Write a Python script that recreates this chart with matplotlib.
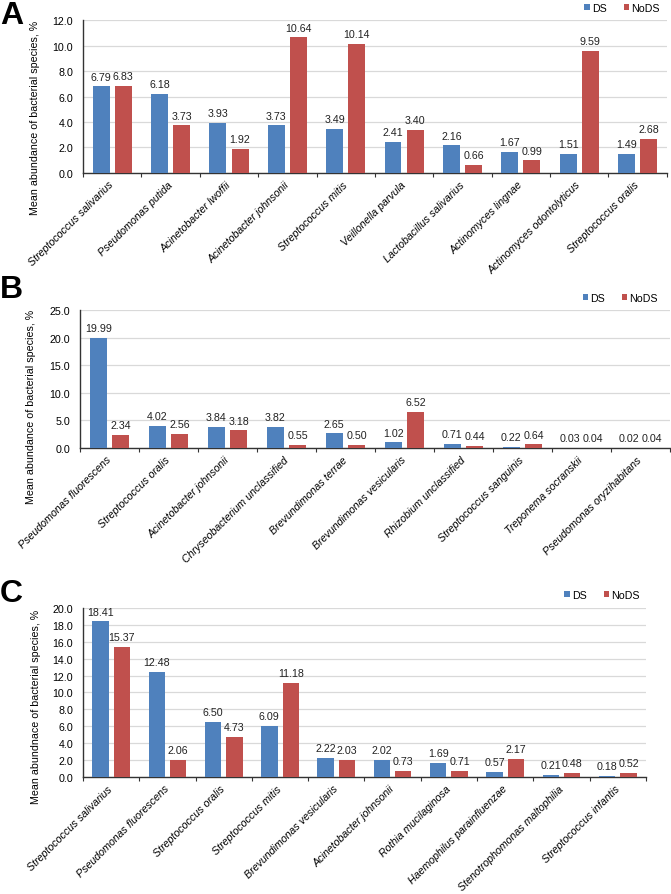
import numpy as np
import matplotlib.pyplot as plt

# panel A
cats_a = ["Streptococcus salivarius", "Pseudomonas putida", "Acinetobacter lwoffii",
          "Acinetobacter johnsonii", "Streptococcus mitis", "Veillonella parvula",
          "Lactobacillus salivarius", "Actinomyces lingnae", "Actinomyces odontolyticus",
          "Streptococcus oralis"]
ds_a = [6.79, 6.18, 3.93, 3.73, 3.49, 2.41, 2.16, 1.67, 1.51, 1.49]
nods_a = [6.83, 3.73, 1.92, 10.64, 10.14, 3.40, 0.66, 0.99, 9.59, 2.68]

# panel B
cats_b = ["Pseudomonas fluorescens", "Streptococcus oralis", "Acinetobacter johnsonii",
          "Chryseobacterium unclassified", "Brevundimonas terrae", "Brevundimonas vesicularis",
          "Rhizobium unclassified", "Streptococcus sanguinis", "Treponema socranskii",
          "Pseudomonas oryzihabitans"]
ds_b = [19.99, 4.02, 3.84, 3.82, 2.65, 1.02, 0.71, 0.22, 0.03, 0.02]
nods_b = [2.34, 2.56, 3.18, 0.55, 0.50, 6.52, 0.44, 0.64, 0.04, 0.04]

# panel C
cats_c = ["Streptococcus salivarius", "Pseudomonas fluorescens", "Streptococcus oralis",
          "Streptococcus mitis", "Brevundimonas vesicularis", "Acinetobacter johnsonii",
          "Rothia mucilaginosa", "Haemophilus parainfluenzae", "Stenotrophomonas maltophilia",
          "Streptococcus infantis"]
ds_c = [18.41, 12.48, 6.50, 6.09, 2.22, 2.02, 1.69, 0.57, 0.21, 0.18]
nods_c = [15.37, 2.06, 4.73, 11.18, 2.03, 0.73, 0.71, 2.17, 0.48, 0.52]

plt.rcParams['font.family'] = ['Liberation Sans', 'DejaVu Sans']

BLUE = '#4F81BD'
RED = '#C0504D'
FS = 7.7

fig = plt.figure(figsize=(6.71, 8.95), dpi=100)


def panel(rect, cats, ds, nods, ymax, step, ylabel, ylab_y, letter, letter_y, leg_xy):
    ax = fig.add_axes(rect)
    x = np.arange(len(cats))
    w = 0.29
    off = 0.19
    b1 = ax.bar(x - off, ds, w, color=BLUE, label='DS', zorder=3)
    b2 = ax.bar(x + off, nods, w, color=RED, label='NoDS', zorder=3)
    for bars, vals in ((b1, ds), (b2, nods)):
        for r, v in zip(bars, vals):
            ax.annotate(f"{v:.2f}", (r.get_x() + r.get_width() / 2, v),
                        xytext=(0, 3.5), textcoords='offset points',
                        ha='center', va='bottom', fontsize=FS, color='#222222')
    ticks = np.arange(0, ymax + 0.01, step)
    ax.set_xlim(-0.5, len(cats) - 0.5)
    ax.set_ylim(0, ymax)
    ax.set_yticks(ticks)
    ax.set_yticklabels([f"{t:.1f}" for t in ticks], fontsize=FS)
    ax.yaxis.grid(True, color='#D9D9D9', linewidth=0.9, zorder=0)
    ax.tick_params(axis='y', length=0, pad=7)
    ax.set_xticks(x)
    ax.set_xticklabels(cats, rotation=45, ha='right', va='center',
                       rotation_mode='anchor', fontsize=FS, style='italic')
    ax.set_xticks(np.arange(-0.5, len(cats)), minor=True)
    ax.tick_params(axis='x', which='major', length=0, pad=7)
    ax.tick_params(axis='x', which='minor', length=3, color='#333333', width=0.8)
    for s in ('top', 'right'):
        ax.spines[s].set_visible(False)
    for s in ('left', 'bottom'):
        ax.spines[s].set_color('#333333')
        ax.spines[s].set_linewidth(1.0)
    ax.set_ylabel(ylabel, fontsize=FS)
    ax.yaxis.set_label_coords(-0.074, ylab_y)
    fig.text(0.0, letter_y, letter, fontsize=23, fontweight='bold',
             va='center', ha='left')
    ax.legend(handles=[b1, b2], loc='center right', bbox_to_anchor=leg_xy,
              bbox_transform=ax.transAxes, ncol=2, frameon=False, fontsize=FS,
              handlelength=0.5, handleheight=0.5, handletextpad=0.2,
              columnspacing=1.6, borderaxespad=0, borderpad=0)
    return ax


panel([0.1237, 0.8056, 0.870, 0.1709], cats_a, ds_a, nods_a, 12, 2,
      "Mean abundance of bacterial species, %", 0.366, "A", 0.9816, (0.988, 1.078))
panel([0.1192, 0.4983, 0.879, 0.1542], cats_b, ds_b, nods_b, 25, 5,
      "Mean abundance of bacterial species, %", 0.304, "B", 0.676, (0.98, 1.087))
panel([0.1237, 0.1307, 0.839, 0.1889], cats_c, ds_c, nods_c, 20, 2,
      "Mean abundnace of bacterial species, %", 0.42, "C", 0.336, (0.989, 1.078))

fig.savefig('out.png', dpi=100)
